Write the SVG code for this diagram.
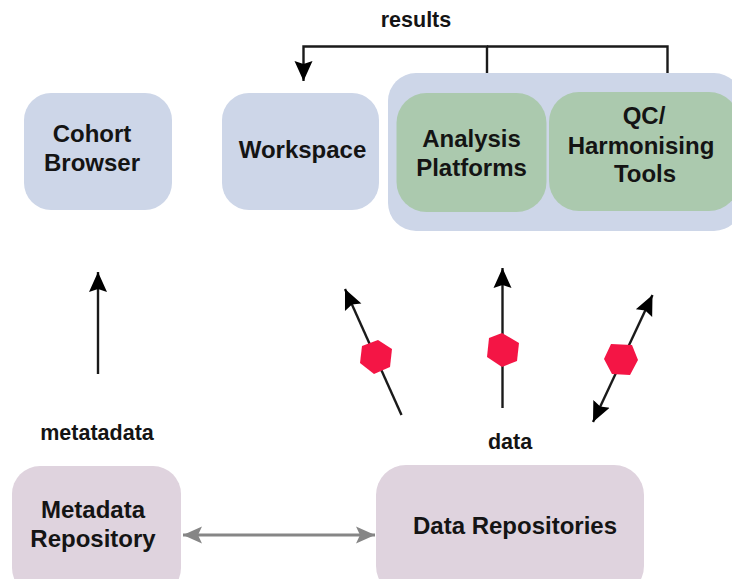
<svg xmlns="http://www.w3.org/2000/svg" width="732" height="579" viewBox="0 0 732 579">
<defs>
<marker id="ah" viewBox="0 0 22 22" refX="20" refY="11" markerUnits="userSpaceOnUse" markerWidth="22" markerHeight="22" orient="auto-start-reverse"><path d="M20 11 L0 2 L3 11 L0 20 Z" fill="#000"/></marker>
<marker id="ag" viewBox="0 0 20 20" refX="19" refY="10" markerUnits="userSpaceOnUse" markerWidth="20" markerHeight="20" orient="auto-start-reverse"><path d="M19 10 L0 1.500 L4 10 L0 18.500 Z" fill="#868686"/></marker>
</defs>
<style>
text{font-family:"Liberation Sans",Arial,sans-serif;font-weight:700;fill:#141414;text-anchor:middle}
.n{font-size:24px}
.l{font-size:21.500px}
.c{fill:none;stroke:#1a1a1a;stroke-width:2.400}
.h{fill:#f41545}
.blue{fill:#cdd6e8}
.green{fill:#abc9ae}
.mauve{fill:#dfd3de}
</style>
<rect width="732" height="579" fill="#fff"/>
<g id="connectors">
<path class="c" d="M487 74V46.500H303.500V81" marker-end="url(#ah)"/>
<path class="c" d="M487 46.500H667.500V74"/>
<path class="c" d="M98 374V272" marker-end="url(#ah)"/>
<path class="c" d="M401.500 415L345 289" marker-end="url(#ah)"/>
<path class="c" d="M502.500 408V268" marker-end="url(#ah)"/>
<path class="c" d="M593 422L652.500 295" marker-start="url(#ah)" marker-end="url(#ah)"/>
<path d="M183 535H375" fill="none" stroke="#868686" stroke-width="2.800" marker-start="url(#ag)" marker-end="url(#ag)"/>
</g>
<g id="tokens">
<polygon class="h" points="378,340 392,349 390,367 374,374 360,363 362,346"/>
<polygon class="h" points="502,333 519,343 517,361 502,367 487,357 489,338"/>
<polygon class="h" points="611,344 632,345 638,360 630,375 612,374 604,359"/>
</g>
<g id="cohort-browser"><rect class="blue" x="24" y="93" width="148" height="117" rx="27"/><text class="n" x="92" y="142">Cohort</text><text class="n" x="92" y="171">Browser</text></g>
<g id="workspace"><rect class="blue" x="222" y="93" width="157" height="117" rx="27"/><text class="n" x="302.500" y="158">Workspace</text></g>
<g id="tool-group"><rect class="blue" x="388" y="73" width="354" height="158" rx="28"/></g>
<g id="analysis-platforms"><rect class="green" x="396.500" y="93" width="150" height="119" rx="30"/><text class="n" x="471.500" y="147">Analysis</text><text class="n" x="471.500" y="176">Platforms</text></g>
<g id="qc-tools"><rect class="green" x="549" y="92" width="190" height="119" rx="30"/><text class="n" x="644" y="124">QC/</text><text class="n" x="641" y="154">Harmonising</text><text class="n" x="645" y="182">Tools</text></g>
<g id="metadata-repository"><rect class="mauve" x="12" y="466" width="169" height="130" rx="28"/><text class="n" x="93" y="518">Metadata</text><text class="n" x="93" y="547">Repository</text></g>
<g id="data-repositories"><rect class="mauve" x="376" y="465" width="268" height="131" rx="30"/><text class="n" x="515" y="534">Data Repositories</text></g>
<g id="labels"><text class="l" x="416" y="27">results</text><text class="l" x="97" y="440">metatadata</text><text class="l" x="510" y="449">data</text></g>
</svg>
